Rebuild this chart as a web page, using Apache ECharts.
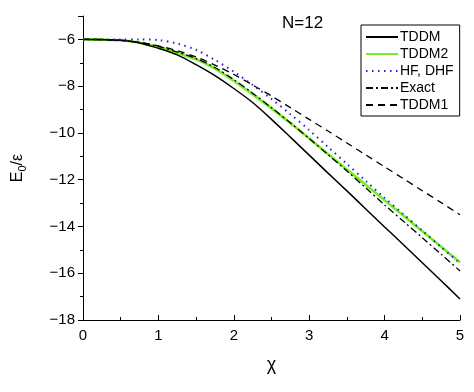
<!DOCTYPE html>
<html><head><meta charset="utf-8">
<script src="https://cdn.jsdelivr.net/npm/echarts@6/dist/echarts.min.js"></script>
<style>html,body{margin:0;padding:0;background:#fff}#c{width:474px;height:392px}</style>
</head><body><div id="c"></div>
<script>
const chi = [0,0.25,0.5,0.75,1,1.25,1.5,1.75,2,2.25,2.5,2.75,3,3.25,3.5,3.75,4,4.25,4.5,4.75,5];
const tddm  = [-6,-6.01,-6.04,-6.15,-6.38,-6.66,-7.08,-7.55,-8.1,-8.7,-9.42,-10.18,-10.95,-11.72,-12.48,-13.25,-14.02,-14.78,-15.55,-16.32,-17.1];
const tddm2 = [-6,-6.01,-6.04,-6.14,-6.33,-6.58,-6.85,-7.25,-7.78,-8.35,-8.95,-9.58,-10.23,-10.9,-11.56,-12.22,-12.88,-13.54,-14.2,-14.87,-15.53];
const hf    = [-6,-6,-6,-6,-6.03,-6.18,-6.45,-6.88,-7.38,-7.95,-8.55,-9.2,-9.88,-10.6,-11.33,-12.05,-12.78,-13.48,-14.18,-14.88,-15.58];
const exact = [-6,-6.01,-6.04,-6.13,-6.3,-6.54,-6.82,-7.2,-7.72,-8.3,-8.92,-9.57,-10.24,-10.93,-11.63,-12.35,-13.08,-13.78,-14.48,-15.19,-15.9];
const tddm1 = [-6,-6.01,-6.04,-6.13,-6.28,-6.48,-6.75,-7.1,-7.5,-7.95,-8.42,-8.92,-9.42,-9.92,-10.43,-10.94,-11.45,-11.96,-12.47,-12.98,-13.5];
const yTicks = [-18,-16,-14,-12,-10,-8,-6];
const xTicks = [0,1,2,3,4,5];

const pair = arr => chi.map((x,i)=>[x,arr[i]]);
const font = 'Liberation Sans, Arial, sans-serif';
const minus = v => String(v).replace('-', '\u2212');

const chart = echarts.init(document.getElementById('c'), null, {renderer:'canvas'});
const mk = (name, arr, color, width, type, z) => ({
  name, type:'line', data: pair(arr), showSymbol:false, symbol:'none', smooth:0.3, z,
  lineStyle:{color, width, type}, itemStyle:{color}
});
chart.setOption({
  animation:false,
  backgroundColor:'#fff',
  title:{text:'N=12', left:277, top:10, textStyle:{fontFamily:font, fontSize:17, fontWeight:'normal', color:'#000'}},
  grid:{left:83, right:14, top:16, bottom:72, containLabel:false},
  legend:{
    orient:'vertical', left:361, top:25, width:96,
    padding:[5,6,4,4], itemGap:3, itemWidth:32, itemHeight:14,
    borderColor:'#000', borderWidth:1, borderRadius:0,
    itemStyle:{opacity:0},
    textStyle:{fontFamily:font, fontSize:14, color:'#000', padding:[0,0,0,-3]},
    data:['TDDM','TDDM2','HF, DHF','Exact','TDDM1']
  },
  xAxis:{
    type:'value', min:0, max:5, interval:1,
    name:'\u03c7', nameLocation:'middle', nameGap:36,
    nameTextStyle:{fontFamily:font, fontSize:18, color:'#000'},
    axisLine:{lineStyle:{color:'#000', width:1}},
    axisTick:{inside:true, length:5, lineStyle:{color:'#000'}},
    minorTick:{show:true, splitNumber:2, length:3, lineStyle:{color:'#000'}},
    axisLabel:{fontFamily:font, fontSize:15, color:'#000', margin:8},
    splitLine:{show:false}
  },
  yAxis:{
    type:'value', min:-18, max:-5, interval:2,
    name:'E{s|0}/\u03b5', nameLocation:'middle', nameGap:55, nameRotate:90,
    nameTextStyle:{fontFamily:font, fontSize:16, color:'#000',
      rich:{s:{fontFamily:font, fontSize:11, color:'#000', padding:[10,0,0,0]}}},
    axisLine:{show:true, lineStyle:{color:'#000', width:1}},
    axisTick:{length:5, lineStyle:{color:'#000'}},
    minorTick:{show:true, splitNumber:2, length:3, lineStyle:{color:'#000'}},
    axisLabel:{fontFamily:font, fontSize:15, color:'#000', margin:8, showMaxLabel:false,
      formatter: v => yTicks.includes(v) ? minus(v) : ''},
    splitLine:{show:false}
  },
  series:[
    mk('TDDM2', tddm2, '#77ee22', 2.6, 'solid', 1),
    mk('TDDM', tddm, '#000', 1.5, 'solid', 3),
    mk('HF, DHF', hf, '#2020d0', 2, [1.5,4.5], 4),
    mk('Exact', exact, '#000', 1.3, [7,3,2,3], 3),
    mk('TDDM1', tddm1, '#000', 1.3, [7,5], 3)
  ]
});
</script></body></html>
